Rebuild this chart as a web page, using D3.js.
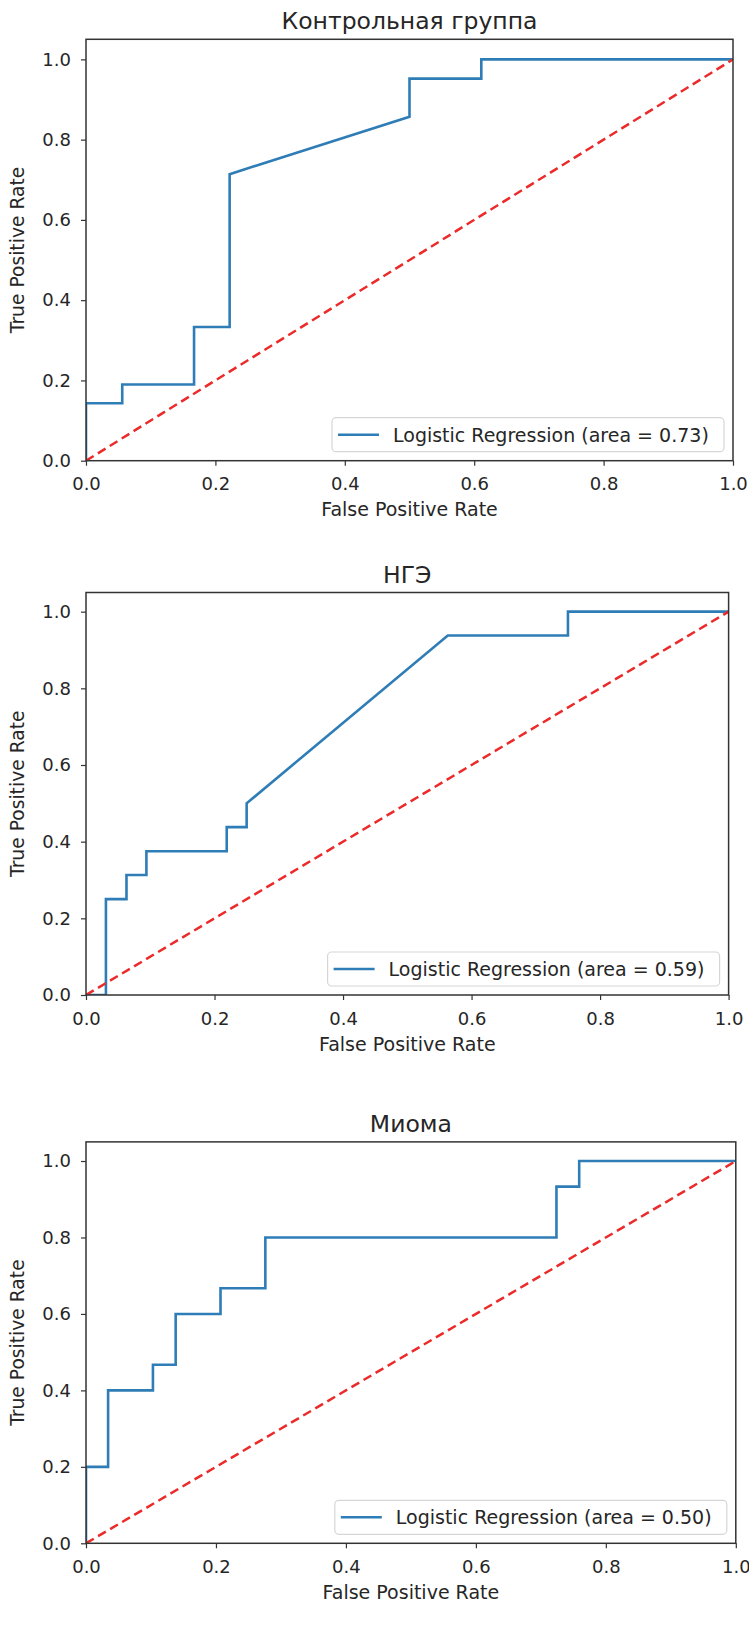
<!DOCTYPE html>
<html>
<head>
<meta charset="utf-8">
<script src="https://cdn.jsdelivr.net/npm/d3@7"></script>
<style>
    body { margin: 0; background: #fff; }
    svg { display: block; }
</style>
</head>
<body>
<div id="container"></div>
<script>
const WIDTH = 749;
const HEIGHT = 1627;

// titles and legend areas
const titles = ["Контрольная группа", "НГЭ", "Миома"];
const areas = ["0.73", "0.59", "0.50"];

// ROC curves
const fpr1 = [0, 0, 0.056, 0.056, 0.167, 0.167, 0.222, 0.222, 0.5, 0.5, 0.611, 0.611, 1];
const tpr1 = [0, 0.143, 0.143, 0.19, 0.19, 0.333, 0.333, 0.714, 0.857, 0.952, 0.952, 1, 1];

const fpr2 = [0, 0.031, 0.031, 0.063, 0.063, 0.094, 0.094, 0.219, 0.219, 0.25, 0.25, 0.563, 0.75, 0.75, 1];
const tpr2 = [0, 0, 0.25, 0.25, 0.313, 0.313, 0.375, 0.375, 0.438, 0.438, 0.5, 0.938, 0.938, 1, 1];

const fpr3 = [0, 0, 0.034, 0.034, 0.103, 0.103, 0.138, 0.138, 0.207, 0.207, 0.276, 0.276, 0.724, 0.724, 0.759, 0.759, 1];
const tpr3 = [0, 0.2, 0.2, 0.4, 0.4, 0.467, 0.467, 0.6, 0.6, 0.667, 0.667, 0.8, 0.8, 0.933, 0.933, 1, 1];

// chance line
const diagX = [0, 1];
const diagY = [0, 1];

// tick values
const ticks = [0, 0.2, 0.4, 0.6, 0.8, 1.0];

const fprs = [fpr1, fpr2, fpr3];
const tprs = [tpr1, tpr2, tpr3];

// axes boxes in pixels
const frames = [
    { left: 86, right: 733, top: 39.3, bottom: 460.7 },
    { left: 86, right: 728.6, top: 592.5, bottom: 995 },
    { left: 86, right: 735.8, top: 1141.9, bottom: 1543.3 },
];

const FONT = "DejaVu Sans";
const TEXT = "#262626";
const BLUE = "#2f7db6";
const RED = "#ec2a2a";

let svg;

main();

function main() {
    svg = d3.select("#container")
        .append("svg")
        .attr("width", WIDTH)
        .attr("height", HEIGHT);
    for (let i = 0; i < frames.length; ++i) {
        drawPanel(i);
    }
}

// one ROC panel
function drawPanel(i) {
    let f = frames[i];
    let g = svg.append("g");
    let x = d3.scaleLinear().domain([0, 1]).range([f.left, f.right]);
    let y = d3.scaleLinear().domain([0, 1.05]).range([f.bottom, f.top]);

    // clip to axes
    let clipId = "clip" + i;
    g.append("clipPath")
        .attr("id", clipId)
        .append("rect")
        .attr("x", f.left)
        .attr("y", f.top)
        .attr("width", f.right - f.left)
        .attr("height", f.bottom - f.top);

    let line = d3.line()
        .x((d) => x(d[0]))
        .y((d) => y(d[1]));

    let roc = d3.zip(fprs[i], tprs[i]);
    g.append("path")
        .datum(roc)
        .attr("clip-path", "url(#" + clipId + ")")
        .attr("d", line)
        .attr("fill", "none")
        .attr("stroke", BLUE)
        .attr("stroke-width", 2.6)
        .attr("stroke-linejoin", "miter");

    g.append("path")
        .datum(d3.zip(diagX, diagY))
        .attr("clip-path", "url(#" + clipId + ")")
        .attr("d", line)
        .attr("fill", "none")
        .attr("stroke", RED)
        .attr("stroke-width", 2.5)
        .attr("stroke-dasharray", "9,5");

    // axes
    let fmt = d3.format(".1f");
    let ax = g.append("g")
        .attr("transform", "translate(0," + f.bottom + ")")
        .call(d3.axisBottom(x).tickValues(ticks).tickFormat(fmt).tickSize(5).tickPadding(12));
    let ay = g.append("g")
        .attr("transform", "translate(" + f.left + ",0)")
        .call(d3.axisLeft(y).tickValues(ticks).tickFormat(fmt).tickSize(5).tickPadding(10));
    [ax, ay].forEach((a) => {
        a.select(".domain").remove();
        a.selectAll("line").attr("stroke", "#333").attr("stroke-width", 1.2);
        a.selectAll("text")
            .style("font-family", FONT)
            .style("font-size", "18px")
            .attr("fill", TEXT);
    });

    // frame
    g.append("rect")
        .attr("x", f.left)
        .attr("y", f.top)
        .attr("width", f.right - f.left)
        .attr("height", f.bottom - f.top)
        .attr("fill", "none")
        .attr("stroke", "#333")
        .attr("stroke-width", 1.5);

    // title
    g.append("text")
        .text(titles[i])
        .attr("x", (f.left + f.right) / 2)
        .attr("y", f.top - 10)
        .attr("text-anchor", "middle")
        .style("font-family", FONT)
        .style("font-size", "23.5px")
        .attr("fill", TEXT);

    // axis labels
    g.append("text")
        .text("False Positive Rate")
        .attr("x", (f.left + f.right) / 2)
        .attr("y", f.bottom + 55.5)
        .attr("text-anchor", "middle")
        .style("font-family", FONT)
        .style("font-size", "19px")
        .attr("fill", TEXT);
    g.append("text")
        .text("True Positive Rate")
        .attr("transform", "translate(24," + (f.top + f.bottom) / 2 + ") rotate(-90)")
        .attr("text-anchor", "middle")
        .style("font-family", FONT)
        .style("font-size", "18.7px")
        .attr("fill", TEXT);

    drawLegend(g, f, i);
}

// legend box, lower right
function drawLegend(g, f, i) {
    let w = 392,
        h = 34;
    let lx = f.right - 9 - w,
        ly = f.bottom - 9 - h;
    g.append("rect")
        .attr("x", lx)
        .attr("y", ly)
        .attr("width", w)
        .attr("height", h)
        .attr("rx", 4)
        .attr("fill", "#fff")
        .attr("fill-opacity", 0.8)
        .attr("stroke", "#d6d6d6")
        .attr("stroke-width", 1.2);
    g.append("line")
        .attr("x1", lx + 6)
        .attr("x2", lx + 47)
        .attr("y1", ly + h / 2)
        .attr("y2", ly + h / 2)
        .attr("stroke", BLUE)
        .attr("stroke-width", 2.6);
    g.append("text")
        .text("Logistic Regression (area = " + areas[i] + ")")
        .attr("x", lx + 61)
        .attr("y", ly + h / 2 + 7)
        .style("font-family", FONT)
        .style("font-size", "19px")
        .attr("fill", TEXT);
}
</script>
</body>
</html>
